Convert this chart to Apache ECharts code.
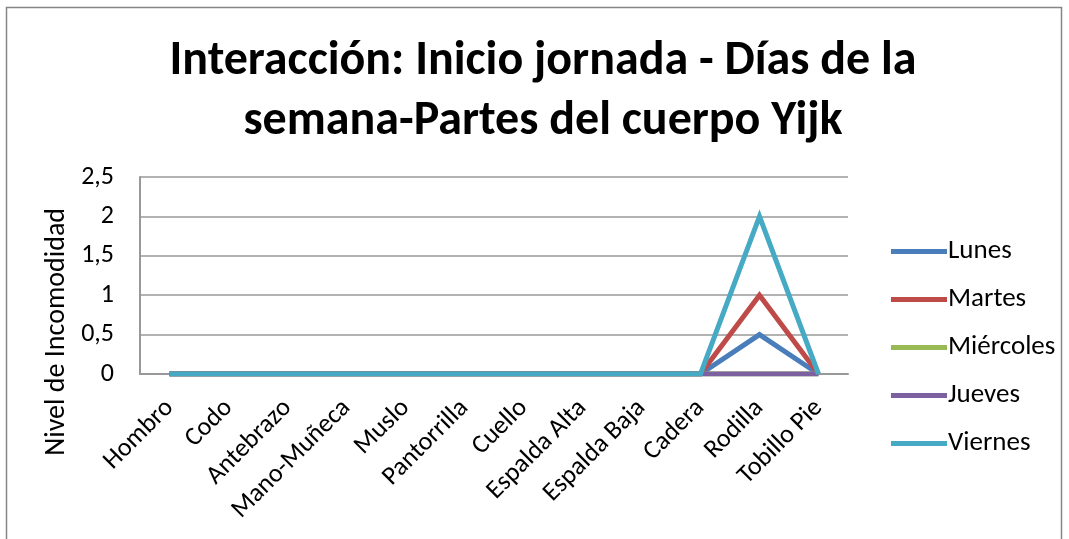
<!DOCTYPE html>
<html>
<head>
<meta charset="utf-8">
<script src="https://cdn.jsdelivr.net/npm/echarts@6/dist/echarts.min.js"></script>
<style>
  html, body { margin: 0; padding: 0; background: #fff; }
  #main { width: 1069px; height: 539px; }
</style>
</head>
<body>
<div id="main"></div>
<script>
// datos del gráfico
const categorias = ["Hombro", "Codo", "Antebrazo", "Mano-Muñeca", "Muslo", "Pantorrilla",
  "Cuello", "Espalda Alta", "Espalda Baja", "Cadera", "Rodilla", "Tobillo Pie"];
const lunes     = [0, 0, 0, 0, 0, 0, 0, 0, 0, 0, 0.5, 0];
const martes    = [0, 0, 0, 0, 0, 0, 0, 0, 0, 0, 1, 0];
const miercoles = [0, 0, 0, 0, 0, 0, 0, 0, 0, 0, 0, 0];
const jueves    = [0, 0, 0, 0, 0, 0, 0, 0, 0, 0, 0, 0];
const viernes   = [0, 0, 0, 0, 0, 0, 0, 0, 0, 0, 2, 0];

const FONT = "Carlito, 'Open Sans', 'Noto Sans', sans-serif";

// series
const seriesDef = [
  { name: "Lunes", data: lunes, color: "#4a7ebb" },
  { name: "Martes", data: martes, color: "#be4b48" },
  { name: "Miércoles", data: miercoles, color: "#98b954" },
  { name: "Jueves", data: jueves, color: "#7d60a0" },
  { name: "Viernes", data: viernes, color: "#46aac5" }
];

const chart = echarts.init(document.getElementById("main"));

chart.setOption({
  animation: false,
  title: {
    text: "Interacción: Inicio jornada - Días de la\nsemana-Partes del cuerpo Yijk",
    left: 538,
    top: 27,
    textAlign: "center",
    textStyle: { fontFamily: FONT, fontSize: 48, fontWeight: "bold", color: "#000", lineHeight: 60 }
  },
  graphic: [
    {
      type: "rect",
      shape: { x: 6.5, y: 7.5, width: 1055, height: 560 },
      style: { fill: "none", stroke: "#868686", lineWidth: 1.5 },
      silent: true
    },
    {
      type: "text",
      left: 43,
      top: 208,
      rotation: Math.PI / 2,
      style: { text: "Nivel de Incomodidad", font: "28px " + FONT, fill: "#000" }
    }
  ],
  legend: {
    orient: "vertical",
    left: 886,
    top: 233,
    itemGap: 21,
    itemWidth: 56,
    itemHeight: 27,
    icon: "path://M0,0 L56,0 L56,5 L0,5 Z",
    textStyle: { fontFamily: FONT, fontSize: 27, color: "#000", padding: [0, 0, 0, -4] },
    data: seriesDef.map(s => s.name)
  },
  grid: { left: 140, right: 221, top: 177, bottom: 165 },
  xAxis: {
    type: "category",
    data: categorias,
    boundaryGap: true,
    axisLine: { lineStyle: { color: "#999", width: 2 } },
    axisTick: { show: false },
    axisLabel: { rotate: 45, interval: 0, fontFamily: FONT, fontSize: 26, color: "#000", margin: 30 }
  },
  yAxis: {
    type: "value",
    min: 0,
    max: 2.5,
    interval: 0.5,
    axisLine: { show: true, lineStyle: { color: "#999", width: 2 } },
    axisTick: { show: false },
    splitLine: { lineStyle: { color: "#999", width: 1.5 } },
    axisLabel: {
      fontFamily: FONT, fontSize: 26, color: "#000", margin: 26,
      formatter: v => String(v).replace(".", ",")
    }
  },
  series: seriesDef.map(s => ({
    name: s.name,
    type: "line",
    data: s.data,
    symbol: "none",
    color: s.color,
    lineStyle: { width: 5, color: s.color, join: "miter" }
  }))
});
</script>
</body>
</html>
